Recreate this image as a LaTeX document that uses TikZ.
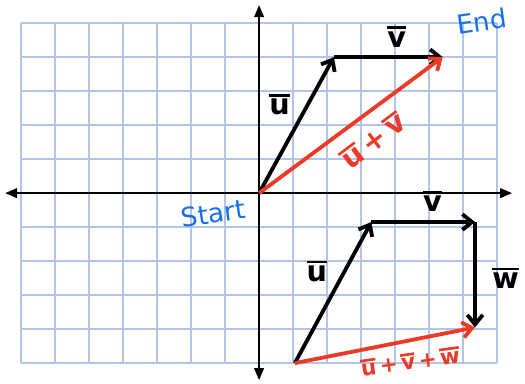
\documentclass[tikz,border=0pt]{standalone}
\usepackage{fontspec}
\setsansfont{DejaVu Sans}
\usetikzlibrary{arrows.meta}
\definecolor{rojo}{RGB}{236,58,40}
\definecolor{azul}{RGB}{22,112,236}
\definecolor{cuadro}{RGB}{178,196,232}

\newcommand{\barra}[1]{\leavevmode\vbox{\hrule height 2.2pt\kern2pt\hbox{#1}}}

\begin{document}
\begin{tikzpicture}[font=\sffamily\bfseries\fontsize{24}{28}\selectfont,
  flecha/.style={line width=3.2pt, -{Straight Barb[length=8pt,width=13pt]}},
  suma/.style={flecha, rojo},
  eje/.style={line width=1.8pt, {Triangle[length=10pt,width=8pt]}-{Triangle[length=10pt,width=8pt]}},
  nota/.style={azul, font=\sffamily\fontsize{22}{26}\selectfont}]
  \useasboundingbox (-7.62,-5.59) rectangle (7.82,5.68);
  \draw[cuadro, line width=1.1pt] (-7,-5) grid (7,5);
  % ejes
  \coordinate (izq) at (-7.47,0);
  \coordinate (der) at (7.44,0);
  \coordinate (arr) at (0,5.53);
  \coordinate (aba) at (0,-5.5);
  \draw[eje] (izq) -- (der);
  \draw[eje] (aba) -- (arr);
  % u + v
  \coordinate (o) at (0,0);
  \coordinate (a) at (2.2,4);
  \coordinate (b) at (5.4,4);
  \draw[flecha] (o) -- (a);
  \draw[flecha] (a) -- (b);
  \draw[suma] (o) -- (b);
  \node (u1) at (0.6,2.6) {\barra{u}};
  \node (v1) at (4.05,4.6) {\barra{v}};
  \node[rojo, rotate=37] (uv) at (3.35,1.55) {\barra{u}\,+\,\barra{v}};
  \node[nota, rotate=8] (ini) at (-1.35,-0.6) {Start};
  \node[nota, rotate=8] (fin) at (6.55,5.05) {End};
  % u + v + w
  \coordinate (p) at (1.05,-5);
  \coordinate (q) at (3.3,-0.85);
  \coordinate (r) at (6.35,-0.85);
  \coordinate (s) at (6.35,-3.95);
  \draw[flecha] (p) -- (q);
  \draw[flecha] (q) -- (r);
  \draw[flecha] (r) -- (s);
  \draw[suma] (p) -- (s);
  \node (u2) at (1.7,-2.3) {\barra{u}};
  \node (v2) at (5.1,-0.25) {\barra{v}};
  \node (w2) at (7.25,-2.5) {\barra{w}};
  \node[rojo, rotate=8, font=\sffamily\bfseries\fontsize{18}{21}\selectfont] (uvw) at (4.45,-4.95) {\barra{u}\,+\,\barra{v}\,+\,\barra{w}};
\end{tikzpicture}
\end{document}
